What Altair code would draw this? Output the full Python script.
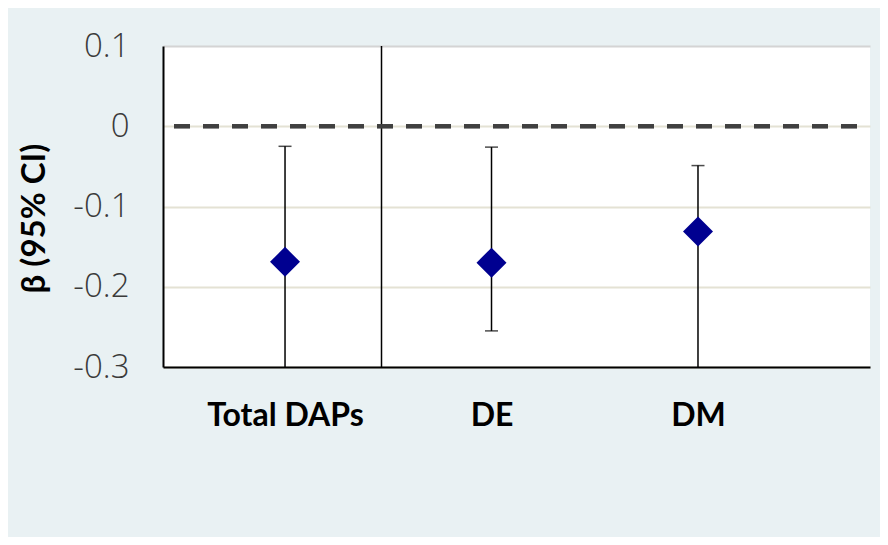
import altair as alt
import pandas as pd

categories = ["Total DAPs", "DE", "DM"]
beta = [-0.169, -0.170, -0.131]
upper = [-0.025, -0.026, -0.049]
lower = [-0.32, -0.255, -0.32]
tick_values = [0.1, 0, -0.1, -0.2, -0.3]

df = pd.DataFrame({"cat": categories, "beta": beta, "upper": upper, "lower": lower})

x_enc = alt.X(
    "cat:N",
    sort=categories,
    scale=alt.Scale(type="point", padding=0.712, align=0.415),
    axis=alt.Axis(
        title=None, labelAngle=0, labelFont="Lato", labelFontWeight="bold",
        labelFontSize=32, labelColor="#000000", labelPadding=33, ticks=False,
        domainColor="#000000", domainWidth=2, grid=False,
    ),
)
y_scale = alt.Scale(domain=[-0.3, 0.1], nice=False, zero=False)
y_axis = alt.Axis(
    title="β (95% CI)", titleFont="Lato", titleFontWeight="bold", titleFontSize=33,
    titleColor="#000000", titleX=-112, titleY=172, titleAngle=-90, titleAlign="center",
    values=tick_values, labelExpr="toString(datum.value)",
    labelFont="Open Sans", labelFontWeight=300, labelFontSize=33, labelColor="#3a3a3a",
    labelPadding=34, ticks=False, domainColor="#000000", domainWidth=2,
    grid=True, gridWidth=2,
    gridColor=alt.condition("datum.value == 0.1", alt.value("#d4d4d4"), alt.value("#e4e2d4")),
)

base = alt.Chart(df)

grid_layer = base.mark_point(opacity=0).encode(
    x=x_enc, y=alt.Y("beta:Q", scale=y_scale, axis=y_axis)
)

sep = base.transform_filter(alt.datum.cat == "DE").mark_rule(
    color="#000000", strokeWidth=1.5, xOffset=-110
).encode(x=alt.X("cat:N", sort=categories), y=alt.value(0), y2=alt.value(321))

zero = base.mark_rule(
    color="#404040", strokeWidth=4, strokeDash=[16, 13], strokeDashOffset=16
).encode(y=alt.datum(0))

bars = base.mark_rule(color="#000000", strokeWidth=1.5, clip=True).encode(
    x=alt.X("cat:N", sort=categories), y="upper:Q", y2="lower:Q"
)
cap_up = base.mark_tick(color="#000000", thickness=1.5, size=13, orient="horizontal").encode(
    x=alt.X("cat:N", sort=categories), y="upper:Q"
)
cap_lo = base.mark_tick(color="#000000", thickness=1.5, size=13, orient="horizontal", clip=True).encode(
    x=alt.X("cat:N", sort=categories), y="lower:Q"
)
pts = base.mark_point(shape="diamond", size=900, filled=True, color="#000090", opacity=1).encode(
    x=alt.X("cat:N", sort=categories), y="beta:Q"
)

chart = alt.layer(grid_layer, sep, zero, bars, cap_up, cap_lo, pts).properties(
    width=707, height=321,
    autosize=alt.AutoSizeParams(type="none"),
    padding={"left": 155, "top": 38, "right": 10, "bottom": 170},
    background="#e9f1f3",
).configure_view(fill="#ffffff", stroke=None)

chart.save("out.html", embed_options={"renderer": "svg", "actions": False})
